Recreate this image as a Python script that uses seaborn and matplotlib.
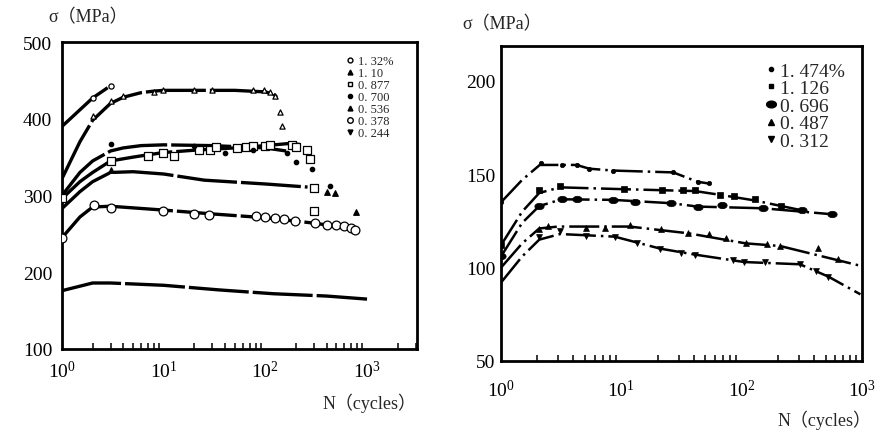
import numpy as np
import matplotlib
matplotlib.use("Agg")
import matplotlib.pyplot as plt
from matplotlib.lines import Line2D
from matplotlib.ticker import LogLocator, NullFormatter
import seaborn as sns

sns.set_theme(style="white")
plt.rcParams['font.family'] = ['Liberation Serif', 'Noto Sans CJK SC']
plt.rcParams['mathtext.fontset'] = 'stix'

# LEFT PANEL DATA (strain amplitude series) ##
left_labels = ['1. 32%', '1. 10', '0. 877', '0. 700', '0. 536', '0. 378', '0. 244']

# drawn curves
l132_n = [1, 2, 3]
l132_s = [390, 427, 443]
l110_n = [1, 1.5, 2, 3, 4, 6, 8, 10, 20, 50, 100, 120, 130]
l110_s = [322, 370, 398, 420, 428, 434, 436, 437, 437, 437, 435, 432, 428]
l0877_n = [1, 1.5, 2, 3, 5, 7, 10, 20, 50, 100, 180, 230]
l0877_s = [296, 318, 330, 345, 350, 353, 356, 359, 362, 365, 368, 366]
l0700_n = [1, 1.5, 2, 3, 4, 6, 10, 30, 100, 160]
l0700_s = [300, 330, 345, 358, 362, 365, 366, 365, 362, 358]
l0536_n = [1, 1.5, 2, 3, 5, 10, 25, 100, 260]
l0536_s = [283, 305, 318, 330, 331, 328, 320, 315, 311]
l0378_n = [1, 1.5, 2, 3, 10, 30, 100, 300, 800]
l0378_s = [245, 272, 285, 286, 281, 276, 271, 264, 256]
l0244_n = [1, 2, 3, 10, 35, 120, 400, 1000]
l0244_s = [176, 186, 186, 183, 177, 172, 169, 165]

# measured points
p132_n = [2, 3]
p132_s = [427, 443]
p110_n = [2, 3, 4, 8, 9.8, 20, 30, 76, 96, 111, 125, 138, 146]
p110_s = [403, 423, 430, 435, 438, 438, 438, 438, 437, 435, 430, 409, 390]
p0877_n = [1, 3, 7, 9.8, 12.5, 22.5, 28.6, 33, 52.6, 64, 76, 100, 111, 183, 201, 257, 277, 298, 298]
p0877_s = [297, 345, 352, 355, 352, 359, 359, 363, 362, 363, 364, 365, 366, 366, 363, 359, 348, 310, 280]
p0700_n = [3, 19.7, 40, 76, 163, 201, 288, 435]
p0700_s = [367, 364, 356, 359, 356, 343, 334, 313]
p0536_n = [3, 402, 488, 780]
p0536_s = [333, 305, 303, 279]
p0378_n = [1, 2.05, 3.06, 9.8, 20, 28, 80, 100, 123, 154, 197, 310, 405, 490, 590, 690, 770]
p0378_s = [245, 288, 284, 280, 276, 275, 273, 272, 271, 270, 267, 264, 262, 262, 260, 258, 255]

# RIGHT PANEL DATA ##
right_labels = ['1. 474%', '1. 126', '0. 696', '0. 487', '0. 312']

r1474_n = [1, 1.5, 2.1, 3.2, 4.25, 5.4, 8.5, 27, 43, 54]
r1474_s = [135, 147, 155, 155, 155, 153, 152, 151, 146, 145]
r1126_n = [1, 1.5, 2.08, 3.1, 10.6, 41, 66, 128, 213, 300]
r1126_s = [112, 130, 140, 143, 142, 141, 139, 136, 133, 131]
r0696_n = [1, 1.5, 2.08, 3.2, 8.5, 26, 43, 150, 560]
r0696_s = [106, 124, 133, 136.6, 136.3, 134.5, 132.7, 131.8, 128.6]
r0487_n = [1, 1.5, 2.08, 3, 11.7, 36, 108, 208, 970]
r0487_s = [100, 113, 121, 122, 122, 118.4, 113, 111.6, 101]
r0312_n = [1, 1.5, 2.08, 3.1, 8.8, 21, 40.7, 105, 305, 525, 970]
r0312_s = [92, 106, 115, 118, 116.6, 110.2, 107, 103, 101.8, 95.2, 85.7]

q1474_n = [1, 2.13, 3.2, 4.25, 5.4, 8.5, 27, 43, 54]
q1474_s = [135, 156, 155, 155, 152.7, 152, 151, 146, 145.5]
q1126_n = [1, 2.08, 3.1, 10.6, 21.6, 32.6, 41, 66, 86, 128, 213]
q1126_s = [112, 141.4, 143.7, 142, 141.6, 141.4, 141.6, 139, 138.4, 136.6, 133]
q0696_n = [1, 2.08, 3.2, 4.25, 8.5, 12.9, 26, 43, 68, 150, 320, 560]
q0696_s = [106, 133, 136.6, 136.6, 136.3, 135.2, 134.5, 132.7, 133.4, 131.8, 130.9, 128.6]
q0487_n = [2.08, 2.47, 5.1, 7.3, 11.7, 21.3, 36, 54, 74, 108, 162, 208, 433, 630]
q0487_s = [120.9, 122.3, 121.25, 121.25, 123, 120.5, 118.4, 118, 115.9, 113, 112.5, 111.6, 110.7, 104.5]
q0312_n = [2.08, 3.1, 5.1, 8.8, 13.4, 21, 31.6, 40.7, 84, 105, 155, 305, 418, 525]
q0312_s = [116.6, 119.6, 117, 116.6, 113.4, 110.2, 107.7, 107, 103.9, 103, 103, 101.8, 98.2, 95.2]

# ellipse marker for 0.696
t = np.linspace(0, 2 * np.pi, 40)
ellipse = list(zip(1.45 * np.cos(t), np.sin(t)))

fig = plt.figure(figsize=(8.94, 4.35), dpi=100)
ax1 = fig.add_axes([62 / 894, 1 - 350 / 435, 355 / 894, 307 / 435])
ax2 = fig.add_axes([501 / 894, 1 - 362 / 435, 361 / 894, 315 / 435])

left_dash = (0, (18, 1.2))
right_dash = (0, (12, 2, 1, 2))

# Left panel curves
for n, s in [(l132_n, l132_s), (l110_n, l110_s), (l0877_n, l0877_s), (l0700_n, l0700_s),
             (l0536_n, l0536_s), (l0378_n, l0378_s), (l0244_n, l0244_s)]:
    sns.lineplot(x=n, y=s, ax=ax1, color='black', lw=2.4, linestyle=left_dash,
                 estimator=None, sort=False)

# Left panel markers: (n, s, marker, size, filled)
left_pts = [(p132_n, p132_s, 'o', 14, False), (p110_n, p110_s, '^', 14, False),
            (p0877_n, p0877_s, 's', 36, False), (p0700_n, p0700_s, 'o', 10, True),
            (p0536_n, p0536_s, '^', 16, True), (p0378_n, p0378_s, 'o', 40, False)]
for n, s, m, sz, filled in left_pts:
    sns.scatterplot(x=n, y=s, ax=ax1, marker=m, s=sz, color='black' if filled else 'white',
                    edgecolor='black', linewidth=0.9, zorder=5)

# Right panel curves
for n, s in [(r1474_n, r1474_s), (r1126_n, r1126_s), (r0696_n, r0696_s),
             (r0487_n, r0487_s), (r0312_n, r0312_s)]:
    sns.lineplot(x=n, y=s, ax=ax2, color='black', lw=1.8, linestyle=right_dash,
                 estimator=None, sort=False)

right_pts = [(q1474_n, q1474_s, 'o', 10), (q1126_n, q1126_s, 's', 16),
             (q0696_n, q0696_s, ellipse, 45), (q0487_n, q0487_s, '^', 18),
             (q0312_n, q0312_s, 'v', 18)]
for n, s, m, sz in right_pts:
    sns.scatterplot(x=n, y=s, ax=ax2, marker=m, s=sz, color='black',
                    edgecolor='black', linewidth=0.5, zorder=5)

# Axes formatting
for ax in (ax1, ax2):
    ax.set_xscale('log')
    ax.xaxis.set_major_locator(LogLocator(base=10, numticks=10))
    ax.xaxis.set_minor_locator(LogLocator(base=10, subs=np.arange(2, 10), numticks=10))
    ax.xaxis.set_minor_formatter(NullFormatter())
    ax.tick_params(axis='both', which='major', direction='in', length=7, width=2,
                   labelsize=14, colors='black')
    ax.tick_params(axis='x', which='minor', direction='in', length=4, width=1.3, bottom=True)
    for sp in ax.spines.values():
        sp.set_linewidth(2)
        sp.set_color('black')
    ax.set_xlabel('')
    ax.set_ylabel('')

ax1.set_xlim(1, 3100)
ax1.set_ylim(100, 500)
ax1.set_yticks([100, 200, 300, 400, 500])
ax1.set_xticks([1, 10, 100, 1000])
ax1.tick_params(axis='x', which='major', pad=8)
ax1.tick_params(axis='y', which='major', pad=7)

ax2.set_xlim(1, 1000)
ax2.set_ylim(50, 218.7)
ax2.set_yticks([50, 100, 150, 200])
ax2.set_xticks([1, 10, 100, 1000])
ax2.tick_params(axis='x', which='major', pad=13)
ax2.tick_params(axis='y', which='major', pad=4)

# Legends
left_handles = [
    Line2D([], [], ls='none', marker='o', ms=3.5, mfc='white', mec='black'),
    Line2D([], [], ls='none', marker='^', ms=3.5, mfc='black', mec='black'),
    Line2D([], [], ls='none', marker='s', ms=3.5, mfc='white', mec='black'),
    Line2D([], [], ls='none', marker='o', ms=3, mfc='black', mec='black'),
    Line2D([], [], ls='none', marker='^', ms=3.5, mfc='black', mec='black'),
    Line2D([], [], ls='none', marker='o', ms=4, mfc='white', mec='black'),
    Line2D([], [], ls='none', marker='v', ms=3.5, mfc='black', mec='black'),
]
ax1.legend(left_handles, left_labels, loc='upper right', bbox_to_anchor=(0.95, 0.978),
           frameon=False, fontsize=9, handlelength=0.6, handletextpad=0.3,
           labelspacing=0.0, borderpad=0)

right_handles = [
    Line2D([], [], ls='none', marker='o', ms=3, mfc='black', mec='black'),
    Line2D([], [], ls='none', marker='s', ms=3.5, mfc='black', mec='black'),
    Line2D([], [], ls='none', marker=ellipse, ms=7, mfc='black', mec='black'),
    Line2D([], [], ls='none', marker='^', ms=4, mfc='black', mec='black'),
    Line2D([], [], ls='none', marker='v', ms=4, mfc='black', mec='black'),
]
ax2.legend(right_handles, right_labels, loc='upper right', bbox_to_anchor=(0.98, 0.98),
           frameon=False, fontsize=14, handlelength=0.5, handletextpad=0.2,
           labelspacing=0.0, borderpad=0)

# Axis titles
fig.text(48 / 894, 1 - 18 / 435, 'σ（MPa）', fontsize=13, ha='left', va='center')
fig.text(462 / 894, 1 - 25 / 435, 'σ（MPa）', fontsize=13, ha='left', va='center')
fig.text(417 / 894, 1 - 403 / 435, 'N（cycles）', fontsize=13, ha='right', va='center')
fig.text(872 / 894, 1 - 420 / 435, 'N（cycles）', fontsize=13, ha='right', va='center')

fig.savefig('out.png', dpi=100, facecolor='white')
